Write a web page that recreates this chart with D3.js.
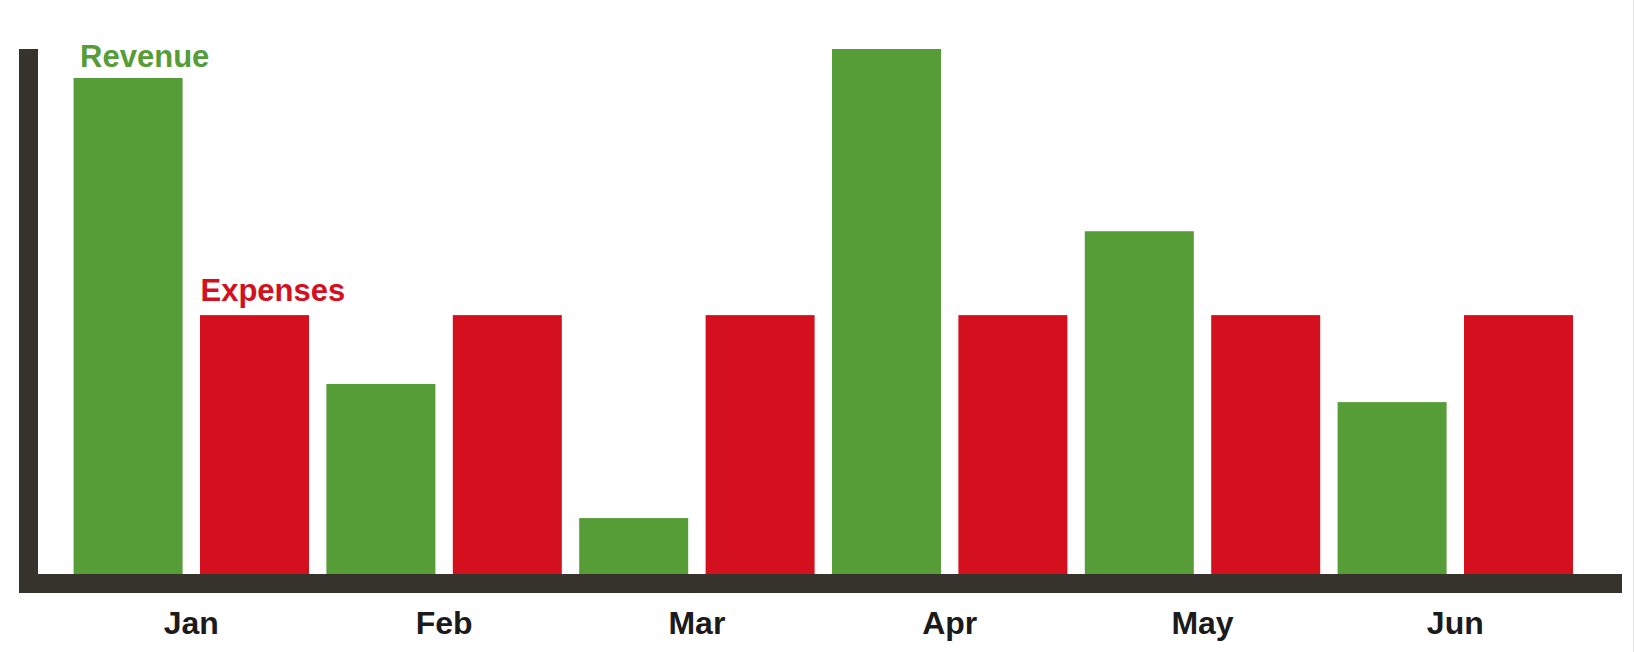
<!DOCTYPE html>
<html>
<head>
<meta charset="utf-8">
<script src="https://cdn.jsdelivr.net/npm/d3@7"></script>
<style>
  html, body { margin: 0; padding: 0; background: #ffffff; }
  svg { display: block; }
  text { font-family: "Liberation Sans", Arial, sans-serif; font-weight: bold; }
</style>
</head>
<body>
<svg id="chart" width="1634" height="652"></svg>
<script>
const months = ["Jan", "Feb", "Mar", "Apr", "May", "Jun"];
const seriesNames = ["Revenue", "Expenses"];
const revenue = [95.8, 36.7, 10.8, 101.4, 66.2, 33.2];
const expenses = [50, 50, 50, 50, 50, 50];
const seriesColors = ["#569c37", "#d5101e"];

const svg = d3.select("#chart");
const W = 1634, H = 652;

const baseY = 574, topY = 49;
const x0 = d3.scaleBand().domain(months).range([64.9, 1581.7]).padding(0);
const x1 = d3.scaleBand().domain(seriesNames).range([0, x0.bandwidth()])
  .paddingInner(0.1377).paddingOuter(0.0688);
const y = d3.scaleLinear().domain([0, d3.max(revenue)]).range([baseY, topY]);
const color = d3.scaleOrdinal().domain(seriesNames).range(seriesColors);

const rows = months.map((m, i) => ({ month: m, Revenue: revenue[i], Expenses: expenses[i] }));

// bars
const groups = svg.append("g").selectAll("g").data(rows).join("g")
  .attr("transform", d => `translate(${x0(d.month)},0)`);
groups.selectAll("rect")
  .data(d => seriesNames.map(s => ({ key: s, value: d[s] })))
  .join("rect")
  .attr("x", d => x1(d.key))
  .attr("y", d => y(d.value))
  .attr("width", x1.bandwidth())
  .attr("height", d => baseY - y(d.value))
  .attr("fill", d => color(d.key));

// series labels over first group's bars
const first = rows[0];
svg.append("text")
  .attr("x", x0(first.month) + x1("Revenue") + 6.5)
  .attr("y", y(first.Revenue) - 11)
  .attr("font-size", 31)
  .attr("fill", color("Revenue"))
  .text("Revenue");
svg.append("text")
  .attr("x", x0(first.month) + x1("Expenses") + 0.5)
  .attr("y", y(first.Expenses) - 14)
  .attr("font-size", 31)
  .attr("fill", color("Expenses"))
  .text("Expenses");

// axis lines (thick)
const axisColor = "#36332d";
svg.append("rect").attr("x", 19).attr("y", topY).attr("width", 19).attr("height", baseY + 19 - topY).attr("fill", axisColor);
svg.append("rect").attr("x", 19).attr("y", baseY).attr("width", 1622 - 19).attr("height", 19).attr("fill", axisColor);

// month labels via d3 axis
const xAxis = svg.append("g")
  .attr("transform", `translate(0,${baseY + 19})`)
  .call(d3.axisBottom(x0).tickSize(0).tickPadding(0));
xAxis.select(".domain").remove();
xAxis.selectAll("text")
  .attr("dy", null)
  .attr("y", 40.5)
  .attr("font-size", 32)
  .attr("font-family", "'Liberation Sans', Arial, sans-serif")
  .attr("font-weight", "bold")
  .attr("fill", "#1b1b1b");

// right edge line
svg.append("line").attr("x1", 1633.5).attr("x2", 1633.5).attr("y1", 0).attr("y2", H)
  .attr("stroke", "#e2e2e2").attr("stroke-width", 1);
</script>
</body>
</html>
